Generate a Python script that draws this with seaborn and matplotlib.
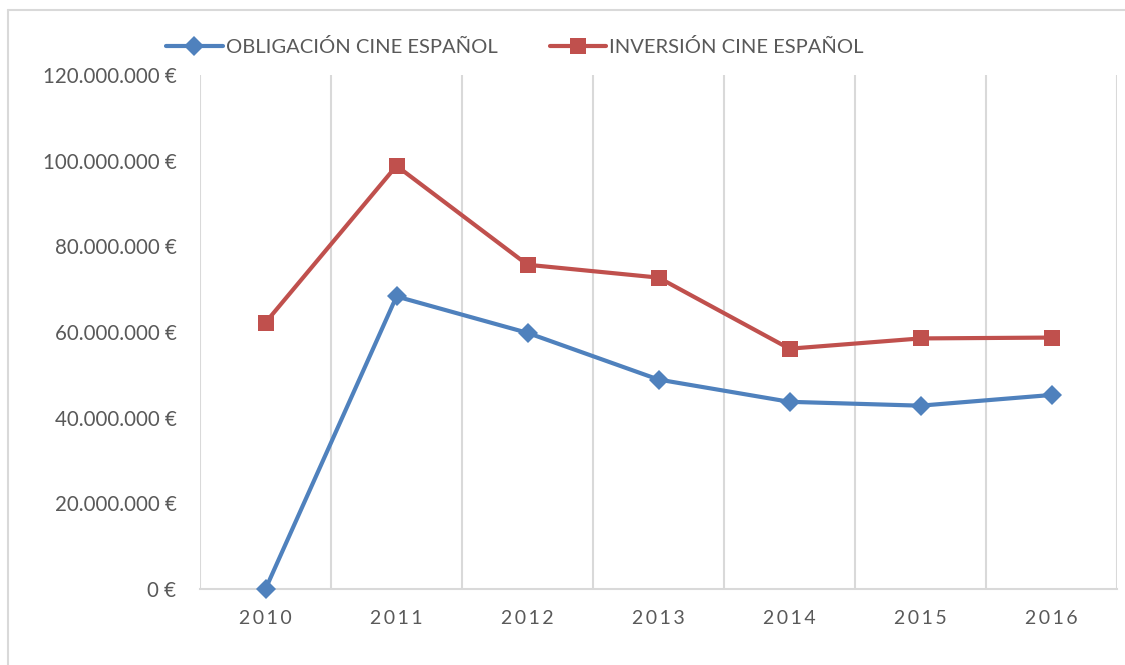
import matplotlib
matplotlib.use("Agg")
import matplotlib.pyplot as plt
import seaborn as sns
import pandas as pd
import numpy as np
from matplotlib.lines import Line2D

years = ["2010", "2011", "2012", "2013", "2014", "2015", "2016"]
obligacion = [0, 68.3e6, 59.8e6, 48.9e6, 43.7e6, 42.8e6, 45.3e6]
inversion = [62.2e6, 98.8e6, 75.7e6, 72.7e6, 56.1e6, 58.5e6, 58.7e6]
series_names = ["OBLIGACIÓN CINE ESPAÑOL", "INVERSIÓN CINE ESPAÑOL"]
ytick_vals = [0, 20e6, 40e6, 60e6, 80e6, 100e6, 120e6]

blue = "#4F81BD"
red = "#C0504D"
txt = "#595959"
grid = "#D9D9D9"

sns.set_theme(style="white")
plt.rcParams["font.family"] = ["Lato", "DejaVu Sans"]

df = pd.DataFrame({
    "x": list(range(len(years))) * 2,
    "value": obligacion + inversion,
    "serie": [series_names[0]] * len(years) + [series_names[1]] * len(years),
})

fig = plt.figure(figsize=(11.25, 6.65), dpi=100)
ax = fig.add_axes([200 / 1125, 1 - 589 / 665, (1117 - 200) / 1125, (589 - 75) / 665])

sns.lineplot(data=df, x="x", y="value", hue="serie", style="serie",
             palette={series_names[0]: blue, series_names[1]: red},
             markers={series_names[0]: "D", series_names[1]: "s"},
             dashes=False, linewidth=3, markersize=12, markeredgewidth=0,
             ax=ax, legend=False, zorder=3)
for ln in ax.lines:
    ln.set_clip_on(False)
    if ln.get_marker() == "D":
        ln.set_markersize(10.5)

ax.set_xlim(-0.5, len(years) - 0.5)
ax.set_ylim(0, 120e6)
ax.set_xticks(range(len(years)))
ax.set_xticklabels(["\u2009".join(y) for y in years])
ax.set_xticks(np.arange(-0.5, len(years)), minor=True)
ax.set_yticks(ytick_vals)
ax.set_yticklabels([("{:,.0f}".format(v)).replace(",", ".") + " €" for v in ytick_vals])
ax.tick_params(axis="both", which="both", length=0, colors=txt, labelsize=14.8)
ax.tick_params(axis="x", pad=15)
ax.tick_params(axis="y", pad=17)
for lab in ax.get_xticklabels():
    lab.set_fontsize(14)
ax.grid(False)
ax.grid(True, axis="x", which="minor", color=grid, linewidth=1.5)
ax.set_axisbelow(True)
for s in ["top", "left", "right"]:
    ax.spines[s].set_visible(False)
ax.spines["bottom"].set_color(grid)
ax.spines["bottom"].set_linewidth(1.5)
ax.set_xlabel("")
ax.set_ylabel("")

handles = [
    Line2D([0], [0], color=blue, lw=3, marker="D", markersize=10.5, markeredgewidth=0),
    Line2D([0], [0], color=red, lw=3, marker="s", markersize=12, markeredgewidth=0),
]
leg = fig.legend(handles, series_names, loc="center", bbox_to_anchor=(515 / 1125, 1 - 47 / 665),
                 ncol=2, frameon=False, fontsize=14.5, handlelength=2.8, handletextpad=0.15,
                 columnspacing=2.6, labelcolor=txt)

fig.add_artist(Line2D([8 / 1125, 8 / 1125], [0, 1 - 10 / 665], transform=fig.transFigure,
                      color=grid, lw=1.5))
fig.add_artist(Line2D([8 / 1125, 1], [1 - 10 / 665, 1 - 10 / 665], transform=fig.transFigure,
                      color=grid, lw=1.5))

fig.savefig("out.png", dpi=100)
